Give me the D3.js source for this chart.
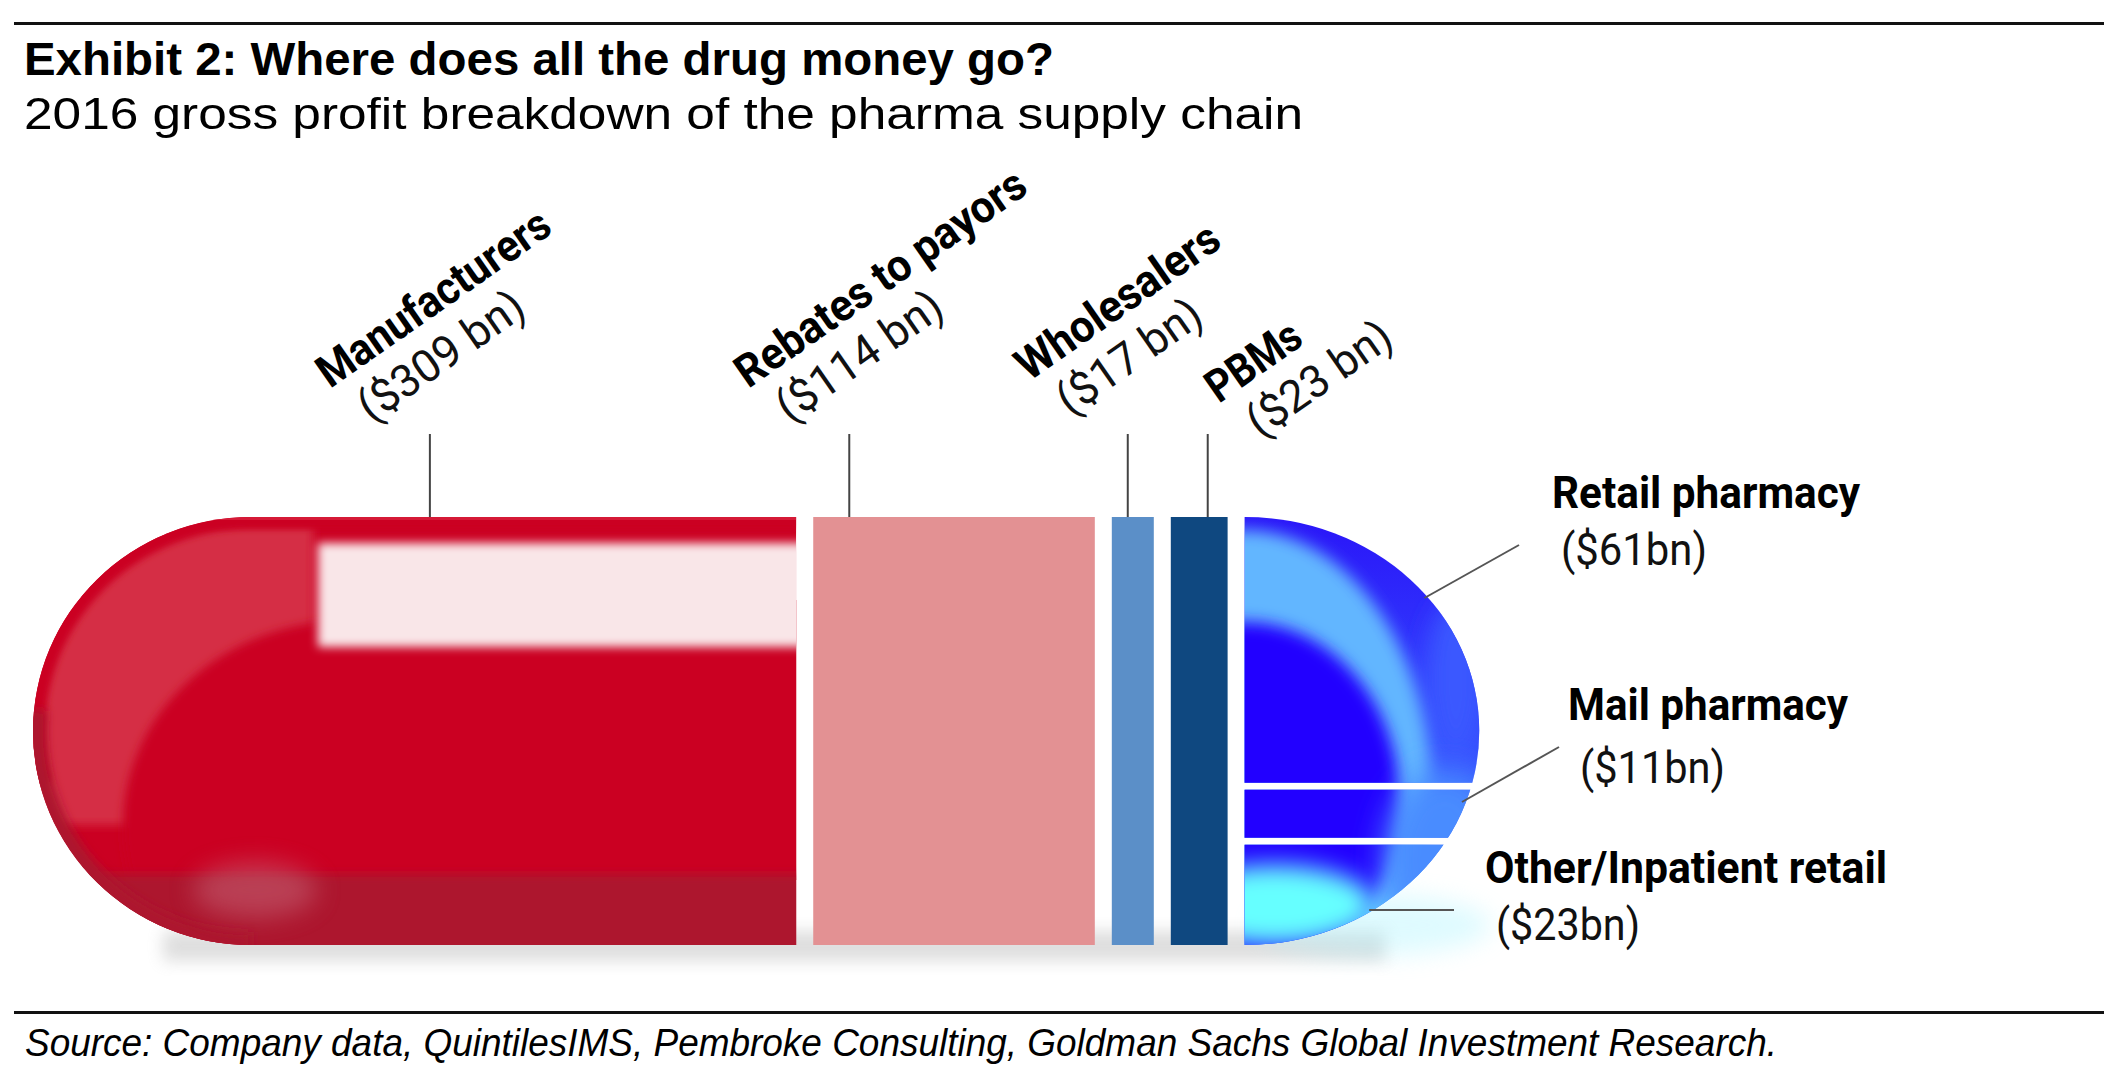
<!DOCTYPE html>
<html><head><meta charset="utf-8">
<script src="https://cdn.jsdelivr.net/npm/d3@7"></script>
<style>html,body{margin:0;padding:0;background:#fff;overflow:hidden}svg{display:block}</style>
</head><body><div id="chart"></div>
<script>
// ---------- data ----------
const categories = ["Manufacturers", "Rebates to payors", "Wholesalers", "PBMs"];
const values = [309, 114, 17, 23];
const valueLabels = ["($309 bn)", "($114 bn)", "($17 bn)", "($23 bn)"];
const capCategories = ["Retail pharmacy", "Mail pharmacy", "Other/Inpatient retail"];
const capValues = [61, 11, 23];
const capValueLabels = ["($61bn)", "($11bn)", "($23bn)"];
const titleText = "Exhibit 2: Where does all the drug money go?";
const subtitleText = "2016 gross profit breakdown of the pharma supply chain";
const sourceText = "Source: Company data, QuintilesIMS, Pembroke Consulting, Goldman Sachs Global Investment Research.";

// ---------- layout / style ----------
const W = 2126, H = 1082;
const segColors = ["#cb0022", "#e39193", "#5b8fc8", "#0f4880"];
const pillTop = 517, pillBottom = 945, pillCy = (pillTop + pillBottom) / 2, pillRy = (pillBottom - pillTop) / 2;
const gap = 17, capGap = 7, x0 = 33, unitPx = 2.47, redCapRx = 218;
const leaderFrac = [0.52, 0.128, 0.38, 0.65];
const labelOffset = [[-100, 389], [-101, 389], [-99, 382], [11, 404]];
const nameLen = [274, 344, 238, 106];
const valLen = [192, 192, 166, 166];
const labelAngle = -35;

const svg = d3.select("#chart").append("svg").attr("width", W).attr("height", H)
  .style("font-family", "Roboto, 'Liberation Sans', sans-serif");
const defs = svg.append("defs");
[["b3", 3], ["b5", 5], ["b8", 8], ["b12", 12], ["b16", 16]].forEach(([id, s]) => {
  defs.append("filter").attr("id", id).attr("x", "-50%").attr("y", "-50%").attr("width", "200%").attr("height", "200%")
    .append("feGaussianBlur").attr("stdDeviation", s);
});

// ---------- scales ----------
const mainTotal = d3.sum(values), capTotal = d3.sum(capValues);
const xScale = d3.scaleLinear().domain([0, mainTotal + capTotal])
  .range([x0, x0 + (mainTotal + capTotal) * unitPx]);
const starts = d3.cumsum([0].concat(values)).slice(0, values.length);
const segs = values.map((v, i) => ({
  name: categories[i], label: valueLabels[i], value: v, color: segColors[i],
  x0: xScale(starts[i]) + i * gap, x1: xScale(starts[i] + v) + i * gap
}));
const capX = xScale(mainTotal) + values.length * gap;
const capRx = xScale(mainTotal + capTotal) - xScale(mainTotal);
const yScale = d3.scaleLinear().domain([0, capTotal]).range([pillTop, pillBottom - capGap * (capValues.length - 1)]);
const capStarts = d3.cumsum([0].concat(capValues)).slice(0, capValues.length);
const capSegs = capValues.map((v, i) => ({
  name: capCategories[i], label: capValueLabels[i], value: v,
  y0: yScale(capStarts[i]) + i * capGap, y1: yScale(capStarts[i] + v) + i * capGap
}));

// ---------- header / footer ----------
const narrow = "'Liberation Sans Narrow','Liberation Sans',Arial,sans-serif";
svg.append("rect").attr("x", 14).attr("y", 22).attr("width", 2090).attr("height", 3).attr("fill", "#111");
svg.append("text").attr("x", 24).attr("y", 75).text(titleText)
  .style("font-family", narrow).style("font-weight", "bold").style("font-size", "47px")
  .attr("textLength", 1030).attr("lengthAdjust", "spacingAndGlyphs");
svg.append("text").attr("x", 24).attr("y", 129).text(subtitleText)
  .style("font-family", narrow).style("font-size", "45px")
  .attr("textLength", 1279).attr("lengthAdjust", "spacingAndGlyphs");
svg.append("rect").attr("x", 14).attr("y", 1011).attr("width", 2090).attr("height", 3).attr("fill", "#111");
svg.append("text").attr("x", 25).attr("y", 1056).text(sourceText)
  .style("font-family", narrow).style("font-style", "italic").style("font-size", "38px")
  .attr("textLength", 1752).attr("lengthAdjust", "spacingAndGlyphs");

// ---------- shadow ----------
svg.append("rect").attr("x", x0 + 130).attr("y", pillBottom - 14)
  .attr("width", capX + capRx * 0.6 - x0 - 130).attr("height", 30)
  .attr("fill", "#9a9a9a").attr("opacity", 0.32).attr("filter", "url(#b8)");
svg.append("ellipse").attr("cx", capX + capRx * 0.55).attr("cy", pillBottom - 20).attr("rx", capRx * 0.5).attr("ry", 30)
  .attr("fill", "#aef4ff").attr("opacity", 0.4).attr("filter", "url(#b12)");

// ---------- red (manufacturers) segment ----------
const red = segs[0];
const rcx = red.x0 + redCapRx;
const redPath = `M${red.x1},${pillTop} L${rcx},${pillTop} A${redCapRx},${pillRy} 0 0 0 ${rcx},${pillBottom} L${red.x1},${pillBottom} Z`;
defs.append("clipPath").attr("id", "redClip").append("path").attr("d", redPath);
const rg = svg.append("g").attr("clip-path", "url(#redClip)");
rg.append("path").attr("d", redPath).attr("fill", red.color);
// lighter area on the upper left
rg.append("rect").attr("x", red.x0 - 20).attr("y", pillTop + 8).attr("width", 300).attr("height", 300)
  .attr("fill", "#d52d44").attr("filter", "url(#b5)");
rg.append("ellipse").attr("cx", rcx + 100).attr("cy", 825).attr("rx", 228).attr("ry", 205)
  .attr("fill", red.color).attr("filter", "url(#b5)");
rg.append("rect").attr("x", rcx + 110).attr("y", 600).attr("width", red.x1 - rcx).attr("height", 280)
  .attr("fill", red.color);
// base-colour rim along the outer edge
const a1 = 0.25;
rg.append("path")
  .attr("d", `M${red.x1},${pillTop} L${rcx},${pillTop} A${redCapRx},${pillRy} 0 0 0 ${rcx - redCapRx * Math.cos(a1)},${pillCy + pillRy * Math.sin(a1)}`)
  .attr("fill", "none").attr("stroke", red.color).attr("stroke-width", 24).attr("filter", "url(#b3)");
// darker bottom band
rg.append("rect").attr("x", red.x0 - 20).attr("y", 874).attr("width", red.x1 - red.x0 + 40).attr("height", 100)
  .attr("fill", "#ad172e").attr("filter", "url(#b5)");
rg.append("path")
  .attr("d", `M${rcx - redCapRx * Math.cos(0.1)},${pillCy - pillRy * Math.sin(0.1)} A${redCapRx},${pillRy} 0 0 0 ${rcx},${pillBottom}`)
  .attr("fill", "none").attr("stroke", "#ad162d").attr("stroke-width", 26).attr("filter", "url(#b5)");
rg.append("ellipse").attr("cx", 255).attr("cy", 890).attr("rx", 62).attr("ry", 28)
  .attr("fill", "#c35b6e").attr("opacity", 0.6).attr("filter", "url(#b12)");
// pale highlight
rg.append("rect").attr("x", 318).attr("y", 543).attr("width", red.x1 - 318 + 20).attr("height", 104)
  .attr("fill", "#f9e6e8").attr("filter", "url(#b5)");
rg.append("rect").attr("x", red.x0).attr("y", pillTop).attr("width", red.x1 - red.x0).attr("height", 3)
  .attr("fill", "#dc2a44").attr("opacity", 0.6);

// ---------- other flat segments ----------
svg.selectAll("rect.seg").data(segs.slice(1)).enter().append("rect").attr("class", "seg")
  .attr("x", d => d.x0).attr("y", pillTop).attr("width", d => d.x1 - d.x0).attr("height", pillBottom - pillTop)
  .attr("fill", d => d.color);

// ---------- blue cap ----------
const capPath = `M${capX},${pillTop} A${capRx},${pillRy} 0 0 1 ${capX},${pillBottom} Z`;
defs.append("clipPath").attr("id", "capClip").append("path").attr("d", capPath);
const capGrad = defs.append("linearGradient").attr("id", "capGrad").attr("x1", 0).attr("y1", 0).attr("x2", 0).attr("y2", 1);
[["0%", "#2a14f8"], ["50%", "#3348ff"], ["100%", "#4a90ff"]].forEach(([o, c]) =>
  capGrad.append("stop").attr("offset", o).attr("stop-color", c));
const capG = svg.append("g").attr("clip-path", "url(#capClip)");
capSegs.forEach((s, i) => {
  defs.append("clipPath").attr("id", "band" + i).append("rect")
    .attr("x", capX - 5).attr("y", s.y0).attr("width", capRx + 10).attr("height", s.y1 - s.y0);
  const g = capG.append("g").attr("clip-path", `url(#band${i})`);
  g.append("rect").attr("x", capX - 5).attr("y", pillTop - 5).attr("width", capRx + 10).attr("height", pillBottom - pillTop + 10)
    .attr("fill", "url(#capGrad)");
  g.append("ellipse").attr("cx", capX + capRx * 0.9).attr("cy", 680).attr("rx", 30).attr("ry", 80)
    .attr("fill", "#3a58ff").attr("filter", "url(#b12)");
  g.append("ellipse").attr("cx", capX).attr("cy", 800).attr("rx", capRx * 0.8).attr("ry", 270)
    .attr("fill", "#62b6ff").attr("filter", "url(#b8)");
  g.append("ellipse").attr("cx", capX).attr("cy", 800).attr("rx", capRx * 0.66).attr("ry", 178)
    .attr("fill", "#2200ff").attr("filter", "url(#b8)");
  g.append("ellipse").attr("cx", capX + capRx * 0.85).attr("cy", 860).attr("rx", 60).attr("ry", 90)
    .attr("fill", "#4a8cff").attr("filter", "url(#b16)");
  g.append("ellipse").attr("cx", capX + 30).attr("cy", 905).attr("rx", 100).attr("ry", 40)
    .attr("fill", "#66ffff").attr("filter", "url(#b12)");
});

// ---------- top labels ----------
svg.selectAll("line.lead").data(segs).enter().append("line").attr("class", "lead")
  .attr("x1", (d, i) => d.x0 + (d.x1 - d.x0) * leaderFrac[i]).attr("x2", (d, i) => d.x0 + (d.x1 - d.x0) * leaderFrac[i])
  .attr("y1", 434).attr("y2", pillTop).attr("stroke", "#444").attr("stroke-width", 2);
const lab = svg.selectAll("g.lab").data(segs).enter().append("g").attr("class", "lab")
  .attr("transform", (d, i) => `translate(${d.x0 + (d.x1 - d.x0) * leaderFrac[i] + labelOffset[i][0]},${labelOffset[i][1]}) rotate(${labelAngle})`);
lab.append("text").text(d => d.name).style("font-weight", "bold").style("font-size", "45px").attr("fill", "#000")
  .attr("textLength", (d, i) => nameLen[i]).attr("lengthAdjust", "spacingAndGlyphs");
lab.append("text").text(d => d.label).attr("x", 14).attr("y", 52).style("font-size", "45px").attr("fill", "#111")
  .attr("textLength", (d, i) => valLen[i]).attr("lengthAdjust", "spacingAndGlyphs");

// ---------- right labels ----------
const ellX = y => capX + capRx * Math.sqrt(Math.max(0, 1 - Math.pow((y - pillCy) / pillRy, 2)));
const rightLab = [
  { bx: 1552, by: 508, bw: 308, vx: 1561, vy: 565, vw: 146, ly: 598, lx2: 1519, ly2: 545 },
  { bx: 1568, by: 720, bw: 280, vx: 1580, vy: 783, vw: 145, ly: 802, lx2: 1559, ly2: 747 },
  { bx: 1485, by: 883, bw: 402, vx: 1496, vy: 940, vw: 144, ly: 910, lx2: 1454, ly2: 910 }
];
capSegs.forEach((s, i) => {
  const L = rightLab[i];
  svg.append("line").attr("x1", ellX(L.ly) - 4).attr("y1", L.ly).attr("x2", L.lx2).attr("y2", L.ly2)
    .attr("stroke", "#555").attr("stroke-width", 2);
  svg.append("text").attr("x", L.bx).attr("y", L.by).text(s.name)
    .style("font-weight", "bold").style("font-size", "44px")
    .attr("textLength", L.bw).attr("lengthAdjust", "spacingAndGlyphs");
  svg.append("text").attr("x", L.vx).attr("y", L.vy).text(s.label)
    .style("font-size", "44px").attr("fill", "#111")
    .attr("textLength", L.vw).attr("lengthAdjust", "spacingAndGlyphs");
});
</script>
</body></html>
